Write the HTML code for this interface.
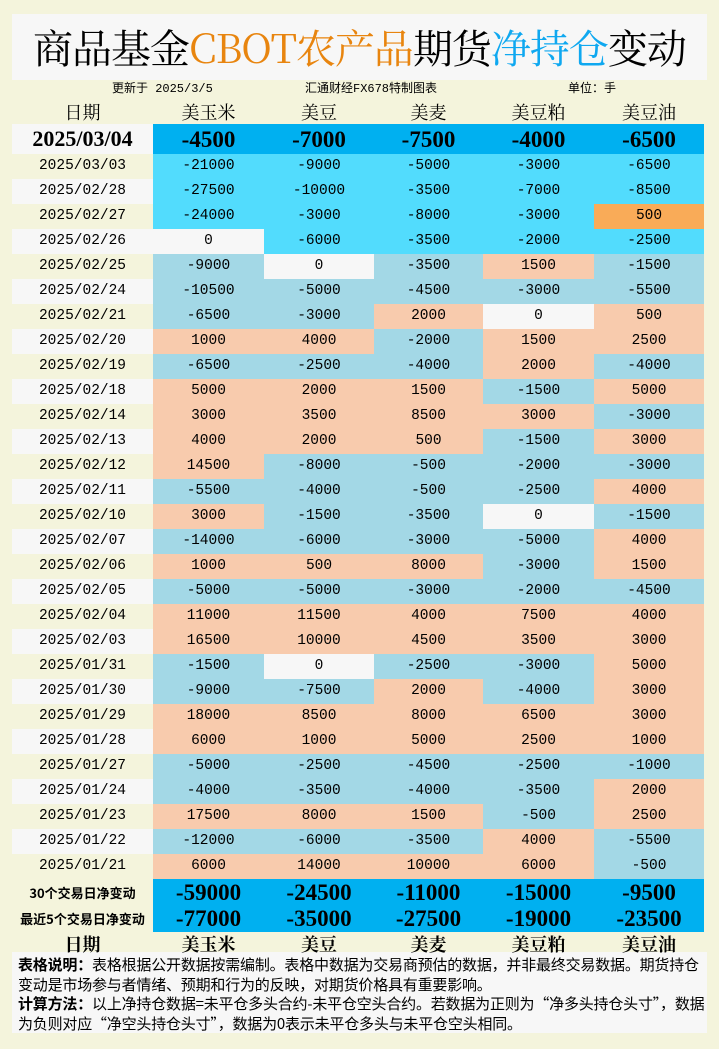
<!DOCTYPE html>
<html><head><meta charset="utf-8"><style>
body{margin:0;width:719px;height:1049px;background:#f4f4dc;position:relative;overflow:hidden;font-family:"Liberation Serif","Noto Serif CJK SC",serif;color:#000}
.a{position:absolute}
.title{left:12px;top:14px;width:695px;height:66px;background:#f7f7f7;text-align:center;font-size:40px;line-height:66px;font-family:"Noto Serif CJK SC",serif;letter-spacing:-1px}
.sub{top:81px;height:16px;font-size:12px;line-height:16px;font-family:"Liberation Mono","Noto Sans CJK SC",monospace}
table{position:absolute;left:12px;border-collapse:collapse;table-layout:fixed;z-index:2}
td{padding:0;text-align:center;white-space:nowrap;line-height:1;overflow:hidden}
.hd td{font-family:"Noto Serif CJK SC",serif;font-size:18px;height:24px}
.r td{height:25px;font-family:"Liberation Mono","Noto Sans CJK SC",monospace;font-size:14.5px}
.c{background:#52dcfd}.n{background:#a3d8e6}.p{background:#f8cbad}.w{background:#f7f7f7}.o{background:#f9ab58}.b{background:#00b0f0}
.big td{font-weight:bold;font-size:23px;font-family:"Liberation Serif",serif}
.notes{left:12px;top:952px;width:695px;height:81px;background:#f7f7f7;padding:3px 0 0 6px;box-sizing:border-box;font-family:"Noto Sans CJK SC",sans-serif;font-size:15px;line-height:19.5px;letter-spacing:-0.2px}
</style></head><body>
<div class="a title">商品基金<span style="color:#e8850f">CBOT农产品</span>期货<span style="color:#0fa8f0">净持仓</span>变动</div>
<div class="a sub" style="left:112px">更新于 2025/3/5</div>
<div class="a sub" style="left:305px">汇通财经FX678特制图表</div>
<div class="a sub" style="left:568px">单位：手</div>
<table style="top:99px;width:692px">
<colgroup><col style="width:141px"><col style="width:111px"><col style="width:110px"><col style="width:109px"><col style="width:111px"><col style="width:110px"></colgroup>
<tr class="hd"><td style="height:25px">日期</td><td>美玉米</td><td>美豆</td><td>美麦</td><td>美豆粕</td><td>美豆油</td></tr>
<tr class="big"><td class="w" style="height:30px;font-size:22px;font-weight:bold">2025/03/04</td><td class="b">-4500</td><td class="b">-7000</td><td class="b">-7500</td><td class="b">-4000</td><td class="b">-6500</td></tr>
<tbody id="rows"></tbody>
<tr class="big"><td style="height:26px;font-size:13px;font-family:'Noto Sans CJK SC',sans-serif">30个交易日净变动</td><td class="b">-59000</td><td class="b">-24500</td><td class="b">-11000</td><td class="b">-15000</td><td class="b">-9500</td></tr>
<tr class="big"><td style="height:27px;font-size:13px;font-family:'Noto Sans CJK SC',sans-serif">最近5个交易日净变动</td><td class="b">-77000</td><td class="b">-35000</td><td class="b">-27500</td><td class="b">-19000</td><td class="b">-23500</td></tr>
<tr class="hd"><td style="height:19px;font-weight:bold">日期</td><td style="font-weight:bold">美玉米</td><td style="font-weight:bold">美豆</td><td style="font-weight:bold">美麦</td><td style="font-weight:bold">美豆粕</td><td style="font-weight:bold">美豆油</td></tr>
</table>
<div class="a notes"><b>表格说明：</b>表格根据公开数据按需编制。表格中数据为交易商预估的数据，并非最终交易数据。期货持仓变动是市场参与者情绪、预期和行为的反映，对期货价格具有重要影响。<br><b>计算方法：</b>以上净持仓数据=未平仓多头合约-未平仓空头合约。若数据为正则为“净多头持仓头寸”，数据为负则对应“净空头持仓头寸”，数据为0表示未平仓多头与未平仓空头相同。</div>
<script>
var d=[["2025/03/03",-21000,-9000,-5000,-3000,-6500],["2025/02/28",-27500,-10000,-3500,-7000,-8500],["2025/02/27",-24000,-3000,-8000,-3000,500],["2025/02/26",0,-6000,-3500,-2000,-2500],
["2025/02/25",-9000,0,-3500,1500,-1500],["2025/02/24",-10500,-5000,-4500,-3000,-5500],["2025/02/21",-6500,-3000,2000,0,500],["2025/02/20",1000,4000,-2000,1500,2500],["2025/02/19",-6500,-2500,-4000,2000,-4000],["2025/02/18",5000,2000,1500,-1500,5000],["2025/02/14",3000,3500,8500,3000,-3000],["2025/02/13",4000,2000,500,-1500,3000],["2025/02/12",14500,-8000,-500,-2000,-3000],["2025/02/11",-5500,-4000,-500,-2500,4000],["2025/02/10",3000,-1500,-3500,0,-1500],["2025/02/07",-14000,-6000,-3000,-5000,4000],["2025/02/06",1000,500,8000,-3000,1500],["2025/02/05",-5000,-5000,-3000,-2000,-4500],["2025/02/04",11000,11500,4000,7500,4000],["2025/02/03",16500,10000,4500,3500,3000],["2025/01/31",-1500,0,-2500,-3000,5000],["2025/01/30",-9000,-7500,2000,-4000,3000],["2025/01/29",18000,8500,8000,6500,3000],["2025/01/28",6000,1000,5000,2500,1000],["2025/01/27",-5000,-2500,-4500,-2500,-1000],["2025/01/24",-4000,-3500,-4000,-3500,2000],["2025/01/23",17500,8000,1500,-500,2500],["2025/01/22",-12000,-6000,-3500,4000,-5500],["2025/01/21",6000,14000,10000,6000,-500]];
var h="";d.forEach(function(r,i){h+='<tr class="r"><td class="'+(i%2?'w':'')+'">'+r[0]+'</td>';for(var j=1;j<6;j++){var v=r[j],c;if(i<4){c='c';if(i==2&&j==5)c='o';if(i==3&&j==1)c='w';}else c=v==0?'w':(v<0?'n':'p');h+='<td class="'+c+'">'+v+'</td>';}h+='</tr>';});
document.getElementById('rows').innerHTML=h;
</script>
</body></html>
